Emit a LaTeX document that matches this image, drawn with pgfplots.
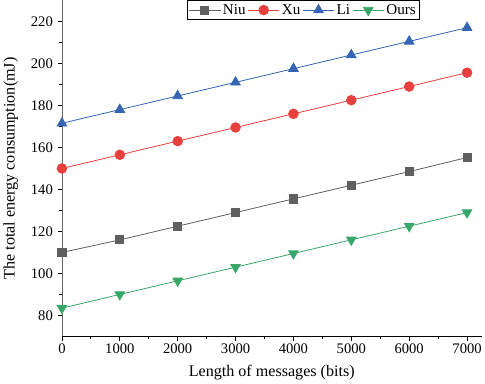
\documentclass[border=0pt]{standalone}
\usepackage{fontspec}
\setmainfont{Liberation Serif}
\usepackage{pgfplots}
\pgfplotsset{compat=1.18}
\definecolor{cNiu}{HTML}{5F5F5F}
\definecolor{cXu}{HTML}{E8403E}
\definecolor{cLi}{HTML}{3565B3}
\definecolor{cOurs}{HTML}{3AA76A}
\begin{document}
\begin{tikzpicture}
\begin{axis}[
  scale only axis,
  width=417pt, height=334pt,
  xmin=0, xmax=7250, ymin=70, ymax=230,
  axis x line*=bottom, axis y line*=left,
  axis line style={line width=0.8pt},
  xtick={0,1000,...,7000},
  ytick={80,100,...,220},
  minor x tick num=1, minor y tick num=1,
  tick align=outside,
  major tick length=4pt, minor tick length=2.5pt,
  tick style={black, line width=0.8pt},
  x axis line style={-},
  y axis line style={-, draw=black!60},
  scaled x ticks=false,
  xticklabel style={/pgf/number format/1000 sep={}},
  yticklabel style={xshift=-1.5pt},
  /pgf/number format/assume math mode=true,
  tick label style={font=\fontsize{14.5}{16}\selectfont},
  label style={font=\fontsize{16}{18}\selectfont},
  xlabel={Length of messages (bits)},
  ylabel={The total energy consumption(mJ)},
  xlabel style={yshift=-4pt},
  ylabel style={yshift=6pt},
  clip=false,
  legend columns=-1,
  legend style={at={(0.575,1.0)}, anchor=north, draw=black, line width=0.8pt,
    font=\fontsize{15}{17}\selectfont, inner sep=1.5pt,
    /tikz/every even column/.append style={column sep=0pt}},
  legend image code/.code={\draw[mark repeat=2,mark phase=2] plot coordinates {(0cm,0cm) (0.55cm,0cm) (1.1cm,0cm)};},
  every axis plot/.append style={line width=0.8pt, mark size=4.8pt},
]
\addplot[cNiu, mark=square*, mark size=4pt] coordinates {(0,110) (1000,116) (2000,122.5) (3000,129) (4000,135.5) (5000,142) (6000,148.5) (7000,155.2)};
\addplot[cXu, mark=*] coordinates {(0,150) (1000,156.5) (2000,163) (3000,169.5) (4000,176) (5000,182.5) (6000,189) (7000,195.6)};
\addplot[cLi, mark=triangle*, mark size=5.5pt] coordinates {(0,171.5) (1000,178) (2000,184.5) (3000,191) (4000,197.5) (5000,204) (6000,210.5) (7000,217)};
\addplot[cOurs, mark=triangle*, mark options={rotate=180}, mark size=5.5pt] coordinates {(0,83.5) (1000,90) (2000,96.5) (3000,103) (4000,109.5) (5000,116) (6000,122.5) (7000,129)};
\legend{Niu,Xu,Li,Ours}
\end{axis}
\end{tikzpicture}
\end{document}
